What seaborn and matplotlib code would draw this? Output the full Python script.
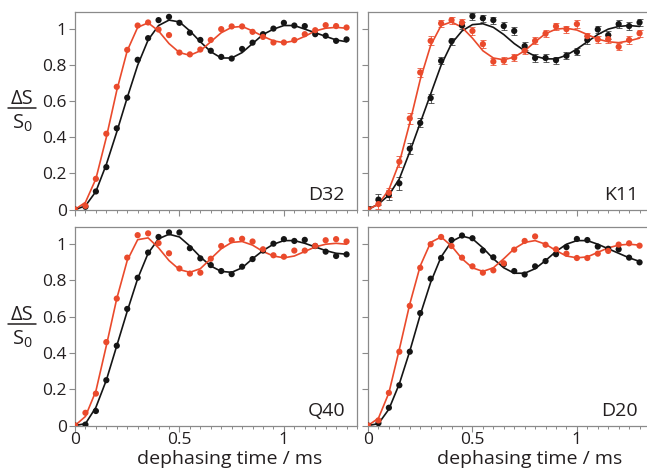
import matplotlib
matplotlib.use("Agg")
import matplotlib.pyplot as plt
import pandas as pd
import seaborn as sns
from matplotlib.ticker import MultipleLocator, FuncFormatter
from matplotlib.lines import Line2D

# dephasing times (ms)
time_ms = [0.00, 0.05, 0.10, 0.15, 0.20, 0.25, 0.30, 0.35, 0.40, 0.45,
           0.50, 0.55, 0.60, 0.65, 0.70, 0.75, 0.80, 0.85, 0.90, 0.95,
           1.00, 1.05, 1.10, 1.15, 1.20, 1.25, 1.30]

# ---- D32 ----
d32_black = [0.00, 0.015, 0.10, 0.235, 0.45, 0.62, 0.83, 0.95, 1.05, 1.068,
             1.035, 0.98, 0.94, 0.88, 0.846, 0.837, 0.89, 0.925, 0.972, 1.003,
             1.035, 1.02, 1.017, 0.972, 0.963, 0.935, 0.943]
d32_red = [0.00, 0.02, 0.17, 0.42, 0.68, 0.885, 1.02, 1.037, 0.998, 0.967,
           0.87, 0.86, 0.887, 0.94, 1.0, 1.015, 1.015, 0.985, 0.957, 0.926,
           0.926, 0.939, 0.972, 0.994, 1.022, 1.017, 1.009]
d32_black_fit = [0.00, 0.02, 0.10, 0.25, 0.43, 0.62, 0.80, 0.94, 1.02, 1.05,
                 1.04, 0.99, 0.93, 0.875, 0.84, 0.84, 0.87, 0.92, 0.97, 1.00,
                 1.02, 1.02, 1.00, 0.98, 0.96, 0.94, 0.93]
d32_red_fit = [0.00, 0.04, 0.17, 0.40, 0.66, 0.88, 1.01, 1.035, 0.99, 0.92,
               0.87, 0.855, 0.88, 0.93, 0.98, 1.01, 1.015, 0.99, 0.96, 0.935,
               0.925, 0.935, 0.96, 0.99, 1.005, 1.01, 1.005]

# ---- K11 ----
k11_black = [0.00, 0.055, 0.08, 0.145, 0.337, 0.48, 0.618, 0.824, 0.933, 1.02,
             1.072, 1.06, 1.05, 1.017, 0.99, 0.906, 0.84, 0.84, 0.828, 0.852,
             0.874, 0.94, 0.998, 0.967, 1.028, 1.017, 1.037]
k11_red = [0.00, 0.03, 0.093, 0.265, 0.505, 0.76, 0.935, 1.032, 1.05, 1.036,
           0.99, 0.917, 0.82, 0.825, 0.842, 0.88, 0.935, 0.975, 1.016, 1.0,
           1.028, 0.961, 0.943, 0.945, 0.902, 0.94, 0.977]
k11_black_fit = [0.00, 0.03, 0.08, 0.17, 0.32, 0.48, 0.64, 0.80, 0.92, 0.99,
                 1.025, 1.03, 1.01, 0.97, 0.92, 0.88, 0.85, 0.835, 0.835, 0.855,
                 0.89, 0.93, 0.97, 1.00, 1.015, 1.02, 1.015]
k11_red_fit = [0.00, 0.03, 0.11, 0.26, 0.48, 0.72, 0.91, 1.02, 1.04, 1.01,
               0.95, 0.88, 0.84, 0.83, 0.845, 0.88, 0.93, 0.975, 1.00, 1.005,
               0.995, 0.97, 0.945, 0.93, 0.925, 0.935, 0.95]
k11_black_err = [0.02, 0.03, 0.03, 0.035, 0.03, 0.025, 0.025, 0.02, 0.02, 0.02,
                 0.02, 0.02, 0.02, 0.02, 0.02, 0.02, 0.02, 0.02, 0.02, 0.02,
                 0.02, 0.02, 0.02, 0.02, 0.02, 0.02, 0.02]
k11_red_err = [0.02, 0.025, 0.025, 0.03, 0.03, 0.025, 0.025, 0.02, 0.02, 0.02,
               0.02, 0.02, 0.02, 0.02, 0.02, 0.02, 0.02, 0.02, 0.02, 0.02,
               0.02, 0.02, 0.02, 0.02, 0.02, 0.02, 0.02]

# ---- Q40 ----
q40_black = [0.00, 0.005, 0.08, 0.25, 0.44, 0.643, 0.815, 0.954, 1.04, 1.065,
             1.065, 0.978, 0.922, 0.885, 0.852, 0.835, 0.876, 0.918, 0.965, 1.003,
             1.028, 1.018, 1.024, 0.99, 0.959, 0.935, 0.944]
q40_red = [0.00, 0.07, 0.176, 0.46, 0.70, 0.926, 1.05, 1.06, 1.006, 0.95,
           0.866, 0.838, 0.843, 0.92, 0.99, 1.022, 1.03, 1.015, 0.972, 0.939,
           0.931, 0.965, 0.965, 0.991, 1.022, 1.028, 1.015]
q40_black_fit = [0.00, 0.01, 0.10, 0.25, 0.44, 0.63, 0.81, 0.95, 1.03, 1.055,
                 1.04, 0.99, 0.93, 0.88, 0.85, 0.845, 0.87, 0.92, 0.965, 1.00,
                 1.02, 1.02, 1.005, 0.985, 0.965, 0.95, 0.945]
q40_red_fit = [0.00, 0.05, 0.19, 0.44, 0.70, 0.91, 1.025, 1.035, 0.98, 0.91,
               0.86, 0.845, 0.865, 0.92, 0.975, 1.01, 1.015, 0.995, 0.96, 0.935,
               0.925, 0.935, 0.96, 0.985, 1.00, 1.005, 1.00]

# ---- D20 ----
d20_black = [0.00, 0.013, 0.098, 0.222, 0.407, 0.62, 0.81, 0.924, 1.023, 1.048,
             1.033, 0.965, 0.928, 0.89, 0.852, 0.833, 0.878, 0.907, 0.945, 0.984,
             1.029, 1.023, 0.987, 0.975, 0.972, 0.926, 0.90]
d20_red = [0.00, 0.028, 0.18, 0.407, 0.66, 0.87, 1.0, 1.04, 0.99, 0.926,
           0.878, 0.843, 0.856, 0.895, 0.97, 1.018, 1.043, 0.997, 0.972, 0.948,
           0.924, 0.924, 0.948, 0.963, 0.998, 1.005, 0.992]
d20_black_fit = [0.00, 0.01, 0.09, 0.23, 0.41, 0.61, 0.79, 0.93, 1.015, 1.045,
                 1.03, 0.98, 0.92, 0.87, 0.84, 0.84, 0.865, 0.91, 0.96, 1.00,
                 1.02, 1.02, 1.00, 0.975, 0.95, 0.925, 0.905]
d20_red_fit = [0.00, 0.04, 0.18, 0.42, 0.67, 0.88, 1.01, 1.04, 0.99, 0.92,
               0.87, 0.85, 0.87, 0.92, 0.975, 1.01, 1.02, 1.00, 0.965, 0.935,
               0.925, 0.93, 0.955, 0.98, 0.995, 1.00, 0.995]

panel_names = ["D32", "K11", "Q40", "D20"]
panel_data = {
    "D32": (d32_black, d32_red, d32_black_fit, d32_red_fit, None, None),
    "K11": (k11_black, k11_red, k11_black_fit, k11_red_fit, k11_black_err, k11_red_err),
    "Q40": (q40_black, q40_red, q40_black_fit, q40_red_fit, None, None),
    "D20": (d20_black, d20_red, d20_black_fit, d20_red_fit, None, None),
}

y_ticks = [0, 0.2, 0.4, 0.6, 0.8, 1.0]
x_ticks = [0, 0.5, 1.0]

BLACK = "#151515"
RED = "#ea4a2c"
SPINE = "#8a8a8a"
TEXT = "#231f20"
palette = {"black": BLACK, "red": RED}

sns.set_theme(style="ticks")
plt.rcParams["font.family"] = ["Open Sans", "DejaVu Sans"]
plt.rcParams["mathtext.default"] = "regular"

W, H = 647, 470
fig = plt.figure(figsize=(W / 100, H / 100), dpi=100)

# axes boxes in pixels: left, top, width, height
boxes = {
    "D32": (75, 12, 282, 197.5),
    "K11": (368, 12, 282, 197.5),
    "Q40": (75, 227, 282, 198.5),
    "D20": (368, 227, 282, 198.5),
}

fmt = FuncFormatter(lambda v, pos: f"{v:g}")

for name in panel_names:
    left, top, w, h = boxes[name]
    ax = fig.add_axes([left / W, 1 - (top + h) / H, w / W, h / H])
    black, red, black_fit, red_fit, black_err, red_err = panel_data[name]

    fits = pd.DataFrame({
        "time": time_ms * 2,
        "value": black_fit + red_fit,
        "series": ["black"] * len(time_ms) + ["red"] * len(time_ms),
    })
    points = pd.DataFrame({
        "time": time_ms * 2,
        "value": black + red,
        "series": ["black"] * len(time_ms) + ["red"] * len(time_ms),
    })

    if black_err is not None:
        ax.errorbar(time_ms, red, yerr=red_err, fmt="none", ecolor=RED,
                    elinewidth=0.7, capsize=2.4, capthick=0.7, alpha=0.8, zorder=2)
        ax.errorbar(time_ms, black, yerr=black_err, fmt="none", ecolor="#333333",
                    elinewidth=0.7, capsize=2.4, capthick=0.7, alpha=0.8, zorder=2)

    sns.lineplot(data=fits, x="time", y="value", hue="series", palette=palette,
                 linewidth=1.2, legend=False, ax=ax, zorder=3)
    sns.scatterplot(data=points, x="time", y="value", hue="series", palette=palette,
                    s=20, marker="o", edgecolor="none", legend=False, ax=ax, zorder=4)

    ax.set_xlim(0, 1.35)
    ax.set_ylim(0, 1.095)
    ax.set_xlabel("")
    ax.set_ylabel("")
    ax.set_xticks(x_ticks)
    ax.xaxis.set_minor_locator(MultipleLocator(0.05))
    ax.set_yticks(y_ticks)
    ax.xaxis.set_major_formatter(fmt)
    ax.yaxis.set_major_formatter(fmt)
    for side in ["left", "right", "top", "bottom"]:
        ax.spines[side].set_color(SPINE)
        ax.spines[side].set_linewidth(0.9)
    ax.tick_params(axis="both", which="major", direction="out", length=4,
                   width=0.8, color=SPINE, labelsize=12.5, labelcolor=TEXT)
    ax.tick_params(axis="x", which="major", pad=0.5)
    ax.tick_params(axis="y", which="major", pad=2.0)
    ax.tick_params(axis="x", which="minor", direction="out", length=2.2,
                   width=0.7, color=SPINE)
    ax.tick_params(axis="y", which="minor", left=False)

    if name in ("D32", "K11"):
        ax.tick_params(axis="x", which="both", labelbottom=False)
    if name in ("K11", "D20"):
        ax.tick_params(axis="y", which="both", labelleft=False)

    ax.text(1 - 12 / w, 9.5 / h, name, transform=ax.transAxes, ha="right",
            va="baseline", fontsize=14, color=TEXT)

# y-axis quantity label, drawn as a stacked fraction beside each left column panel
for off in (0, 216):
    fig.text(22 / W, 1 - (99 + off) / H, "ΔS", ha="center", va="center",
             fontsize=14.5, color=TEXT)
    fig.add_artist(Line2D([8 / W, 36 / W], [1 - (107.5 + off) / H] * 2,
                          transform=fig.transFigure, color=TEXT, linewidth=1.1))
    fig.text(22 / W, 1 - (123.5 + off) / H, r"$\mathregular{S_0}$", ha="center",
             va="center", fontsize=14.5, color=TEXT)

# x-axis labels under the bottom row
for cx in (230, 530):
    fig.text(cx / W, 1 - 459 / H, "dephasing time / ms", ha="center", va="center",
             fontsize=14, color=TEXT)

fig.savefig("out.png", dpi=100, facecolor="white")
